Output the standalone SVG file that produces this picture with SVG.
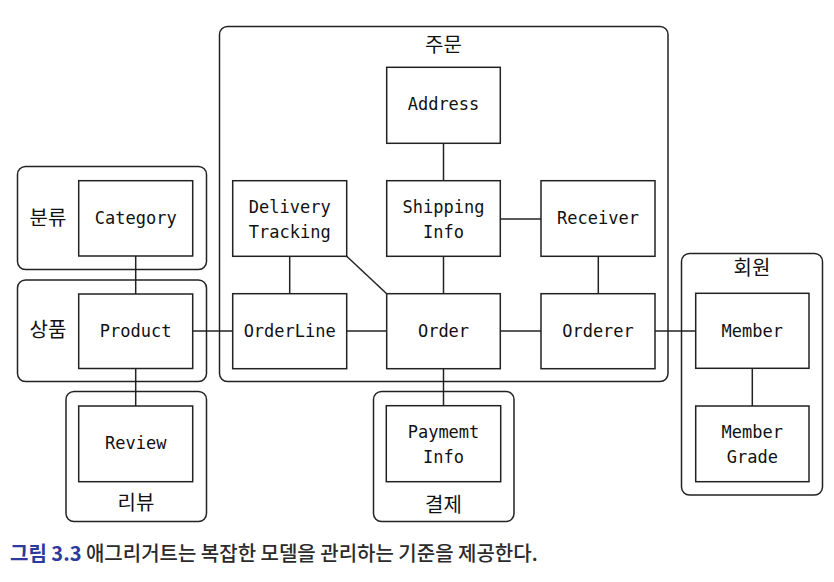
<svg xmlns="http://www.w3.org/2000/svg" width="834" height="582" viewBox="0 0 834 582">
<style>
.grp{fill:none;stroke:#222;stroke-width:1.5}
.box{fill:#fff;stroke:#222;stroke-width:1.5}
.ln{stroke:#222;stroke-width:1.5;fill:none}
.t{font-family:"DejaVu Sans Mono","Liberation Mono",monospace;font-size:17px;fill:#111;text-anchor:middle}
.k{font-family:"Noto Sans CJK KR","Noto Sans",sans-serif;font-size:20px;fill:#111;text-anchor:middle}
.cap{font-family:"Noto Sans CJK KR","Noto Sans",sans-serif;font-size:20px;fill:#2b2b2b;font-weight:500}
</style>
<rect width="834" height="582" fill="#fff"/>
<g id="groups">
<g id="g-bunryu"><rect class="grp" x="17.5" y="166.5" width="189" height="103" rx="8"/><text class="k" x="48" y="225">분류</text></g>
<g id="g-sangpum"><rect class="grp" x="17.5" y="280" width="189" height="101.5" rx="8"/><text class="k" x="48" y="337">상품</text></g>
<g id="g-review"><rect class="grp" x="66" y="391.5" width="140.5" height="130" rx="8"/><text class="k" x="136" y="510">리뷰</text></g>
<g id="g-jumun"><rect class="grp" x="219.5" y="26.5" width="448.5" height="355" rx="8"/><text class="k" x="443.5" y="52">주문</text></g>
<g id="g-gyulje"><rect class="grp" x="373.5" y="391.5" width="140.5" height="130" rx="8"/><text class="k" x="443.5" y="512">결제</text></g>
<g id="g-member"><rect class="grp" x="681.5" y="253.5" width="141" height="241.5" rx="8"/><text class="k" x="752" y="275">회원</text></g>
</g>
<g id="connectors">
<line class="ln" x1="135.7" y1="256" x2="135.7" y2="294"/>
<line class="ln" x1="135.7" y1="368.5" x2="135.7" y2="406"/>
<line class="ln" x1="192.7" y1="331" x2="232.7" y2="331"/>
<line class="ln" x1="346.7" y1="331" x2="386.7" y2="331"/>
<line class="ln" x1="500.3" y1="331" x2="541" y2="331"/>
<line class="ln" x1="655" y1="331" x2="695.7" y2="331"/>
<line class="ln" x1="443.5" y1="143.3" x2="443.5" y2="180.7"/>
<line class="ln" x1="443.5" y1="256.3" x2="443.5" y2="293.7"/>
<line class="ln" x1="443.5" y1="368.7" x2="443.5" y2="405.7"/>
<line class="ln" x1="289.7" y1="256.3" x2="289.7" y2="293.7"/>
<line class="ln" x1="598.3" y1="256.3" x2="598.3" y2="293.7"/>
<line class="ln" x1="500.3" y1="219" x2="541" y2="219"/>
<line class="ln" x1="346.7" y1="256.3" x2="386.7" y2="293.7"/>
<line class="ln" x1="752.3" y1="368.3" x2="752.3" y2="406"/>
</g>
<g id="n-category"><rect class="box" x="78.7" y="180.7" width="114" height="75.3"/><text class="t" x="135.7" y="224">Category</text></g>
<g id="n-product"><rect class="box" x="78.7" y="294" width="114" height="74.5"/><text class="t" x="135.7" y="337">Product</text></g>
<g id="n-review"><rect class="box" x="78.7" y="406" width="114" height="75.7"/><text class="t" x="135.7" y="449">Review</text></g>
<g id="n-address"><rect class="box" x="386.7" y="67.3" width="113.6" height="76"/><text class="t" x="443.5" y="110">Address</text></g>
<g id="n-delivery"><rect class="box" x="232.7" y="180.7" width="114" height="75.6"/><text class="t" x="289.7" y="213">Delivery</text><text class="t" x="289.7" y="238">Tracking</text></g>
<g id="n-shipping"><rect class="box" x="386.7" y="180.7" width="113.6" height="75.6"/><text class="t" x="443.5" y="213">Shipping</text><text class="t" x="443.5" y="238">Info</text></g>
<g id="n-receiver"><rect class="box" x="541" y="180.7" width="114" height="75.6"/><text class="t" x="598" y="224">Receiver</text></g>
<g id="n-orderline"><rect class="box" x="232.7" y="293.7" width="114" height="75"/><text class="t" x="289.7" y="337">OrderLine</text></g>
<g id="n-order"><rect class="box" x="386.7" y="293.7" width="113.6" height="75"/><text class="t" x="443.5" y="337">Order</text></g>
<g id="n-orderer"><rect class="box" x="541" y="293.7" width="114" height="75"/><text class="t" x="598" y="337">Orderer</text></g>
<g id="n-payment"><rect class="box" x="386.3" y="405.7" width="114.4" height="76"/><text class="t" x="443.5" y="438">Paymemt</text><text class="t" x="443.5" y="463">Info</text></g>
<g id="n-member"><rect class="box" x="695.7" y="293.3" width="113.3" height="75"/><text class="t" x="752.3" y="337">Member</text></g>
<g id="n-grade"><rect class="box" x="695.7" y="406" width="113.3" height="75.7"/><text class="t" x="752.3" y="438">Member</text><text class="t" x="752.3" y="463">Grade</text></g>
<text class="cap" x="10" y="561"><tspan fill="#2c3a9c" font-weight="700">그림 3.3</tspan> 애그리거트는 복잡한 모델을 관리하는 기준을 제공한다.</text>
</svg>
